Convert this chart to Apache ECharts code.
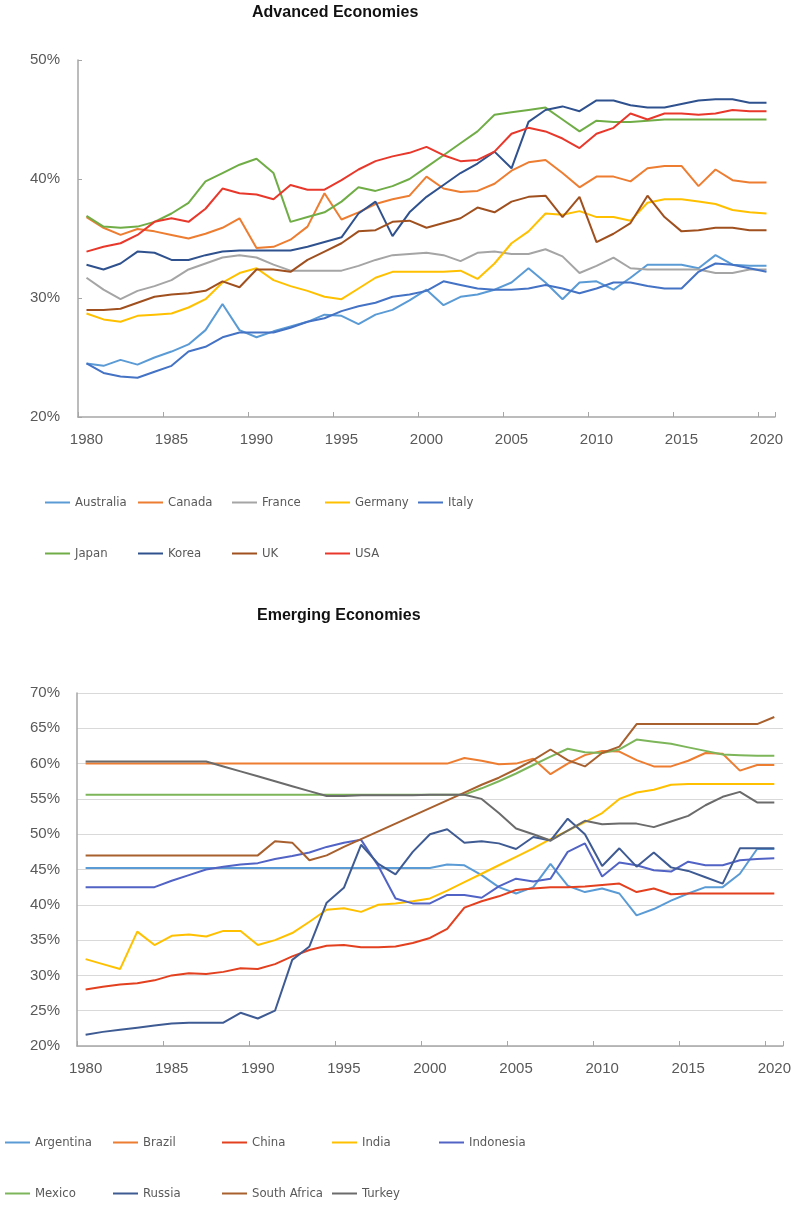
<!DOCTYPE html>
<html>
<head>
<meta charset="utf-8">
<script src="https://cdn.jsdelivr.net/npm/echarts@6/dist/echarts.min.js"></script>
<style>
html,body{margin:0;padding:0;background:#fff;}
#chart{width:794px;height:1206px;}
</style>
</head>
<body>
<div id="chart"></div>
<script>
// ---------- Data ----------
const years = ['1980','1981','1982','1983','1984','1985','1986','1987','1988','1989',
  '1990','1991','1992','1993','1994','1995','1996','1997','1998','1999',
  '2000','2001','2002','2003','2004','2005','2006','2007','2008','2009',
  '2010','2011','2012','2013','2014','2015','2016','2017','2018','2019','2020'];

const titleAdvanced = 'Advanced Economies';
const titleEmerging = 'Emerging Economies';

// Advanced economies (%)
const australia = [24.5,24.3,24.8,24.4,25.0,25.5,26.1,27.3,29.5,27.3,
  26.7,27.2,27.6,28.0,28.6,28.5,27.8,28.6,29.0,29.8,
  30.7,29.4,30.1,30.3,30.7,31.3,32.5,31.3,29.9,31.3,
  31.4,30.7,31.7,32.8,32.8,32.8,32.5,33.6,32.8,32.7,32.7];
const canada = [36.8,35.9,35.3,35.8,35.6,35.3,35.0,35.4,35.9,36.7,
  34.2,34.3,34.9,36.0,38.8,36.6,37.2,37.9,38.3,38.6,
  40.2,39.2,38.9,39.0,39.6,40.7,41.4,41.6,40.5,39.3,
  40.2,40.2,39.8,40.9,41.1,41.1,39.4,40.8,39.9,39.7,39.7];
const france = [31.7,30.7,29.9,30.6,31.0,31.5,32.4,32.9,33.4,33.6,
  33.4,32.8,32.3,32.3,32.3,32.3,32.7,33.2,33.6,33.7,
  33.8,33.6,33.1,33.8,33.9,33.7,33.7,34.1,33.5,32.1,
  32.7,33.4,32.5,32.4,32.4,32.4,32.4,32.1,32.1,32.4,32.4];
const germany = [28.7,28.2,28.0,28.5,28.6,28.7,29.2,29.9,31.3,32.1,
  32.5,31.5,31.0,30.6,30.1,29.9,30.8,31.7,32.2,32.2,
  32.2,32.2,32.3,31.6,32.9,34.6,35.6,37.1,37.0,37.3,
  36.8,36.8,36.5,38.0,38.3,38.3,38.1,37.9,37.4,37.2,37.1];
const italy = [24.5,23.7,23.4,23.3,23.8,24.3,25.5,25.9,26.7,27.1,
  27.1,27.1,27.5,28.0,28.3,28.9,29.3,29.6,30.1,30.3,
  30.6,31.4,31.1,30.8,30.7,30.7,30.8,31.1,30.8,30.4,
  30.8,31.3,31.3,31.0,30.8,30.8,32.2,32.9,32.8,32.5,32.2];
const japan = [36.9,36.0,35.9,36.0,36.4,37.1,38.0,39.8,40.5,41.2,
  41.7,40.5,36.4,36.8,37.2,38.1,39.3,39.0,39.4,40.0,
  41.0,42.0,43.0,44.0,45.4,45.6,45.8,46.0,45.0,44.0,
  44.9,44.8,44.8,44.9,45.0,45.0,45.0,45.0,45.0,45.0,45.0];
const korea = [32.8,32.4,32.9,33.9,33.8,33.2,33.2,33.6,33.9,34.0,
  34.0,34.0,34.0,34.3,34.7,35.1,37.1,38.1,35.2,37.2,
  38.5,39.5,40.5,41.3,42.3,40.9,44.8,45.8,46.1,45.7,
  46.6,46.6,46.2,46.0,46.0,46.3,46.6,46.7,46.7,46.4,46.4];
const uk = [29.0,29.0,29.1,29.6,30.1,30.3,30.4,30.6,31.4,30.9,
  32.4,32.4,32.2,33.2,33.9,34.6,35.6,35.7,36.4,36.5,
  35.9,36.3,36.7,37.6,37.2,38.1,38.5,38.6,36.8,38.5,
  34.7,35.4,36.3,38.6,36.8,35.6,35.7,35.9,35.9,35.7,35.7];
const usa = [33.9,34.3,34.6,35.3,36.4,36.7,36.4,37.5,39.2,38.8,
  38.7,38.3,39.5,39.1,39.1,39.9,40.8,41.5,41.9,42.2,
  42.7,42.0,41.5,41.6,42.3,43.8,44.3,44.0,43.4,42.6,
  43.8,44.3,45.5,45.0,45.5,45.5,45.4,45.5,45.8,45.7,45.7];

// Emerging economies (%)
const argentina = [45.2,45.2,45.2,45.2,45.2,45.2,45.2,45.2,45.2,45.2,
  45.2,45.2,45.2,45.2,45.2,45.2,45.2,45.2,45.2,45.2,
  45.2,45.7,45.6,44.2,42.5,41.6,42.5,45.8,42.7,41.8,
  42.3,41.6,38.5,39.4,40.6,41.6,42.5,42.5,44.4,47.9,47.9];
const brazil = [60.0,60.0,60.0,60.0,60.0,60.0,60.0,60.0,60.0,60.0,
  60.0,60.0,60.0,60.0,60.0,60.0,60.0,60.0,60.0,60.0,
  60.0,60.0,60.8,60.4,59.9,60.0,60.7,58.5,60.0,61.2,
  61.8,61.7,60.5,59.6,59.6,60.4,61.5,61.4,59.0,59.8,59.8];
const china = [28.0,28.4,28.7,28.9,29.3,30.0,30.3,30.2,30.5,31.0,
  30.9,31.6,32.7,33.6,34.2,34.3,34.0,34.0,34.1,34.6,
  35.3,36.6,39.6,40.5,41.2,42.1,42.3,42.5,42.5,42.6,
  42.8,43.0,41.8,42.3,41.5,41.6,41.6,41.6,41.6,41.6,41.6];
const india = [32.3,31.6,30.9,36.2,34.3,35.6,35.8,35.5,36.3,36.3,
  34.3,35.0,36.0,37.6,39.3,39.5,39.0,40.0,40.2,40.5,
  40.9,42.0,43.2,44.4,45.6,46.8,48.0,49.3,50.5,51.7,
  53.0,55.0,55.9,56.3,57.0,57.1,57.1,57.1,57.1,57.1,57.1];
const indonesia = [42.5,42.5,42.5,42.5,42.5,43.4,44.2,45.0,45.4,45.7,
  45.9,46.5,46.9,47.4,48.2,48.8,49.2,45.5,40.9,40.2,
  40.2,41.4,41.4,41.0,42.6,43.7,43.3,43.7,47.5,48.7,
  44.0,46.0,45.6,44.9,44.7,46.1,45.6,45.6,46.3,46.5,46.6];
const mexico = [55.6,55.6,55.6,55.6,55.6,55.6,55.6,55.6,55.6,55.6,
  55.6,55.6,55.6,55.6,55.6,55.6,55.6,55.6,55.6,55.6,
  55.6,55.6,55.6,56.5,57.5,58.6,59.8,61.0,62.1,61.6,
  61.5,62.0,63.4,63.1,62.8,62.3,61.8,61.3,61.2,61.1,61.1];
const russia = [21.6,22.0,22.3,22.6,22.9,23.2,23.3,23.3,23.3,24.7,
  23.9,25.0,32.2,34.1,40.3,42.4,48.5,45.8,44.3,47.5,
  50.0,50.7,48.8,49.0,48.7,47.9,49.6,49.1,52.2,50.0,
  45.5,48.0,45.4,47.4,45.3,44.8,43.9,43.0,48.0,48.0,48.0];
const southAfrica = [47.0,47.0,47.0,47.0,47.0,47.0,47.0,47.0,47.0,47.0,
  47.0,49.0,48.8,46.3,47.0,48.2,49.3,50.4,51.5,52.6,
  53.7,54.8,55.9,57.0,58.0,59.2,60.5,62.0,60.5,59.6,
  61.5,62.4,65.6,65.6,65.6,65.6,65.6,65.6,65.6,65.6,66.6];
const turkey = [60.3,60.3,60.3,60.3,60.3,60.3,60.3,60.3,59.6,58.9,
  58.2,57.5,56.8,56.1,55.4,55.4,55.5,55.5,55.5,55.5,
  55.6,55.6,55.6,55.0,53.0,50.8,50.0,49.1,50.5,51.9,
  51.4,51.5,51.5,51.0,51.8,52.6,54.1,55.3,56.0,54.5,54.5];

const advNames = ['Australia','Canada','France','Germany','Italy','Japan','Korea','UK','USA'];
const advData = [australia, canada, france, germany, italy, japan, korea, uk, usa];
const emgNames = ['Argentina','Brazil','China','India','Indonesia','Mexico','Russia','South Africa','Turkey'];
const emgData = [argentina, brazil, china, india, indonesia, mexico, russia, southAfrica, turkey];

// ---------- Styles ----------
const advColors = ['#5B9BD5','#ED7D31','#A5A5A5','#FFC000','#4472C4','#70AD47','#2F528F','#A0501E','#E8382B'];
const emgColors = ['#5B9BD5','#ED7D31','#E2401F','#FFC000','#5163C4','#7DB65A','#3F5B93','#A8602E','#6B6B6B'];
const advLegendPos = [[45,504],[138,504],[232,504],[325,504],[418,504],[45,555],[138,555],[232,555],[325,555]];
const emgLegendPos = [[5,1144],[113,1144],[222,1144],[332,1144],[439,1144],[5,1195],[113,1195],[222,1195],[332,1195]];

const tickFont = {fontFamily:'Liberation Sans, Arial, sans-serif', fontSize:15, color:'#595959'};
const axisGray = '#A6A6A6';

function xAxisCfg(gridIndex){
  return {
    type:'category', gridIndex, data: years, boundaryGap:true,
    axisLine:{show:true, lineStyle:{color:axisGray, width:1.5}},
    axisTick:{show:true, inside:true, length:5, interval:4, alignWithLabel:false, lineStyle:{color:axisGray}},
    axisLabel:Object.assign({interval:4, margin:15}, tickFont),
    splitLine:{show:false}
  };
}

const series = [];
advNames.forEach((n,i)=>{
  series.push({name:n, type:'line', xAxisIndex:0, yAxisIndex:0, data:advData[i],
    symbol:'none', lineStyle:{width:2, color:advColors[i]}, itemStyle:{color:advColors[i]}});
});
emgNames.forEach((n,i)=>{
  series.push({name:n, type:'line', xAxisIndex:1, yAxisIndex:1, data:emgData[i],
    symbol:'none', lineStyle:{width:2, color:emgColors[i]}, itemStyle:{color:emgColors[i]}});
});

const legends = [];
function addLegend(name, pos){
  legends.push({
    data:[name], left:pos[0], top:pos[1]-8, padding:0,
    icon:'rect', itemWidth:25, itemHeight:2,
    textStyle:{fontFamily:'"DejaVu Sans Condensed", "Liberation Sans Narrow", Roboto, sans-serif', fontSize:13, color:'#595959'}
  });
}
advNames.forEach((n,i)=>addLegend(n, advLegendPos[i]));
emgNames.forEach((n,i)=>addLegend(n, emgLegendPos[i]));

const option = {
  animation:false,
  backgroundColor:'#ffffff',
  title:[
    {text:titleAdvanced, left:252, top:5, padding:0,
     textStyle:{fontFamily:'Liberation Sans, Arial, sans-serif', fontSize:16, fontWeight:'bold', color:'#111'}},
    {text:titleEmerging, left:257, top:608, padding:0,
     textStyle:{fontFamily:'Liberation Sans, Arial, sans-serif', fontSize:16, fontWeight:'bold', color:'#111'}}
  ],
  legend: legends,
  grid:[
    {left:78, top:60, width:697, height:357},
    {left:77, top:693, width:706, height:353}
  ],
  xAxis:[xAxisCfg(0), xAxisCfg(1)],
  yAxis:[
    {type:'value', gridIndex:0, min:20, max:50, interval:10,
     axisLine:{show:true, lineStyle:{color:axisGray, width:1.5}},
     axisTick:{show:true, inside:true, length:4, lineStyle:{color:axisGray}},
     axisLabel:Object.assign({formatter:'{value}%', margin:18}, tickFont),
     splitLine:{show:false}},
    {type:'value', gridIndex:1, min:20, max:70, interval:5,
     axisLine:{show:true, lineStyle:{color:axisGray, width:1.5}},
     axisTick:{show:false},
     axisLabel:Object.assign({formatter:'{value}%', margin:17}, tickFont),
     splitLine:{show:true, lineStyle:{color:'#D9D9D9', width:1}}}
  ],
  series: series
};

const chart = echarts.init(document.getElementById('chart'), null, {renderer:'canvas'});
chart.setOption(option);
</script>
</body>
</html>
